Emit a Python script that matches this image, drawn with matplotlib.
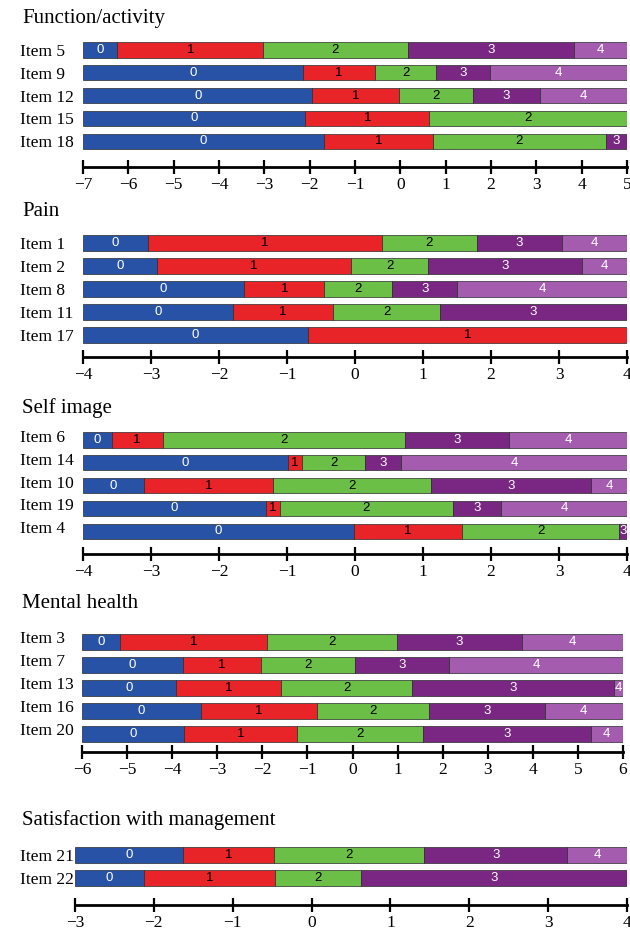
import matplotlib
matplotlib.use("Agg")
import matplotlib.pyplot as plt
from matplotlib.transforms import ScaledTranslation

# category colours 0..4 and the colour of the number written on each
CAT_COLORS = ["#2852A6", "#E92428", "#6BBE46", "#7A2784", "#A45CAF"]
CAT_TEXT = ["white", "black", "black", "white", "white"]

# thresholds (each list = where category k ends)
FUNC_ITEMS = ["Item 5", "Item 9", "Item 12", "Item 15", "Item 18"]
FUNC_CUTS = [
    [-6.24, -3.03, 0.16, 3.83],
    [-2.15, -0.55, 0.78, 1.97],
    [-1.94, -0.02, 1.60, 3.08],
    [-2.10, 0.64],
    [-1.68, 0.71, 4.54],
]
FUNC_RANGE = (-7, 5)

PAIN_ITEMS = ["Item 1", "Item 2", "Item 8", "Item 11", "Item 17"]
PAIN_CUTS = [
    [-3.04, 0.39, 1.80, 3.04],
    [-2.91, -0.06, 1.08, 3.34],
    [-1.63, -0.45, 0.55, 1.50],
    [-1.80, -0.32, 1.25],
    [-0.69],
]
PAIN_RANGE = (-4, 4)

SELF_ITEMS = ["Item 6", "Item 14", "Item 10", "Item 19", "Item 4"]
SELF_CUTS = [
    [-3.58, -2.83, 0.73, 2.27],
    [-0.98, -0.78, 0.15, 0.68],
    [-3.10, -1.21, 1.12, 3.47],
    [-1.31, -1.11, 1.44, 2.15],
    [-0.02, 1.58, 3.88],
]
SELF_RANGE = (-4, 4)

MENTAL_ITEMS = ["Item 3", "Item 7", "Item 13", "Item 16", "Item 20"]
MENTAL_CUTS = [
    [-5.15, -1.89, 0.99, 3.75],
    [-3.77, -2.04, 0.06, 2.15],
    [-3.91, -1.59, 1.33, 5.80],
    [-3.36, -0.79, 1.70, 4.26],
    [-3.73, -1.22, 1.57, 5.28],
]
MENTAL_RANGE = (-6, 6)

SAT_ITEMS = ["Item 21", "Item 22"]
SAT_CUTS = [
    [-1.63, -0.48, 1.43, 3.24],
    [-2.13, -0.46, 0.63],
]
SAT_RANGE = (-3, 4)

TITLES = ["Function/activity", "Pain", "Self image", "Mental health",
          "Satisfaction with management"]

W, H = 630, 935
SERIF = ["Liberation Serif", "DejaVu Serif"]

# layout in pixels: title y, first bar y, bar spacing, axis line y, x0, x1, label shift
LAYOUT = [
    (18, 50, 22.8, 167, 83, 627, 0),
    (211, 243, 23.0, 357, 83, 627, 0),
    (408, 440, 22.8, 554, 83, 627, -4),
    (603, 642, 23.0, 752, 82, 623, -5),
    (820, 855, 23.0, 905, 75, 627, 0),
]


def draw_panel(fig, items, cuts, xrange_, title, layout):
    ty, first, step, axis_y, x0, x1, dy = layout
    top = first - step
    ax = fig.add_axes([x0 / W, 1 - axis_y / H, (x1 - x0) / W, (axis_y - top) / H])
    lo, hi = xrange_
    for i, c in enumerate(cuts):
        edges = [lo] + list(c) + [hi]
        for k in range(len(edges) - 1):
            left, right = edges[k], edges[k + 1]
            bars = ax.barh(i, right - left, left=left, height=0.66,
                           color=CAT_COLORS[k], edgecolor="#2a2a2a",
                           linewidth=0.5)
            t = ax.text((left + right) / 2, i, str(k), ha="center",
                        va="center", fontsize=9.5, color=CAT_TEXT[k],
                        family=["Liberation Sans Narrow", "Liberation Sans",
                                "DejaVu Sans"])
            t.set_clip_path(bars.patches[0])

    ax.set_xlim(lo, hi)
    ax.set_ylim((axis_y - first) / step, -1)
    for s in ("top", "right", "left"):
        ax.spines[s].set_visible(False)
    ax.spines["bottom"].set_linewidth(2)
    ax.set_xticks(range(lo, hi + 1))
    ax.tick_params(axis="x", direction="inout", length=10, width=1.6,
                   pad=2, labelsize=12.5)
    for lab in ax.get_xticklabels():
        lab.set_family(SERIF)

    ax.set_yticks(range(len(items)), items)
    ax.tick_params(axis="y", length=0, pad=(x0 - 20) * 72 / 100,
                   labelsize=12.5)
    shift = ScaledTranslation(0, -dy / 100, fig.dpi_scale_trans)
    for lab in ax.get_yticklabels():
        lab.set_horizontalalignment("left")
        lab.set_family(SERIF)
        lab.set_transform(lab.get_transform() + shift)

    fig.text(22 / W, 1 - ty / H, title, va="center", ha="left",
             fontsize=15, family=SERIF)


fig = plt.figure(figsize=(W / 100, H / 100), dpi=100)
draw_panel(fig, FUNC_ITEMS, FUNC_CUTS, FUNC_RANGE, TITLES[0], LAYOUT[0])
draw_panel(fig, PAIN_ITEMS, PAIN_CUTS, PAIN_RANGE, TITLES[1], LAYOUT[1])
draw_panel(fig, SELF_ITEMS, SELF_CUTS, SELF_RANGE, TITLES[2], LAYOUT[2])
draw_panel(fig, MENTAL_ITEMS, MENTAL_CUTS, MENTAL_RANGE, TITLES[3], LAYOUT[3])
draw_panel(fig, SAT_ITEMS, SAT_CUTS, SAT_RANGE, TITLES[4], LAYOUT[4])

fig.savefig("out.png", dpi=100)
